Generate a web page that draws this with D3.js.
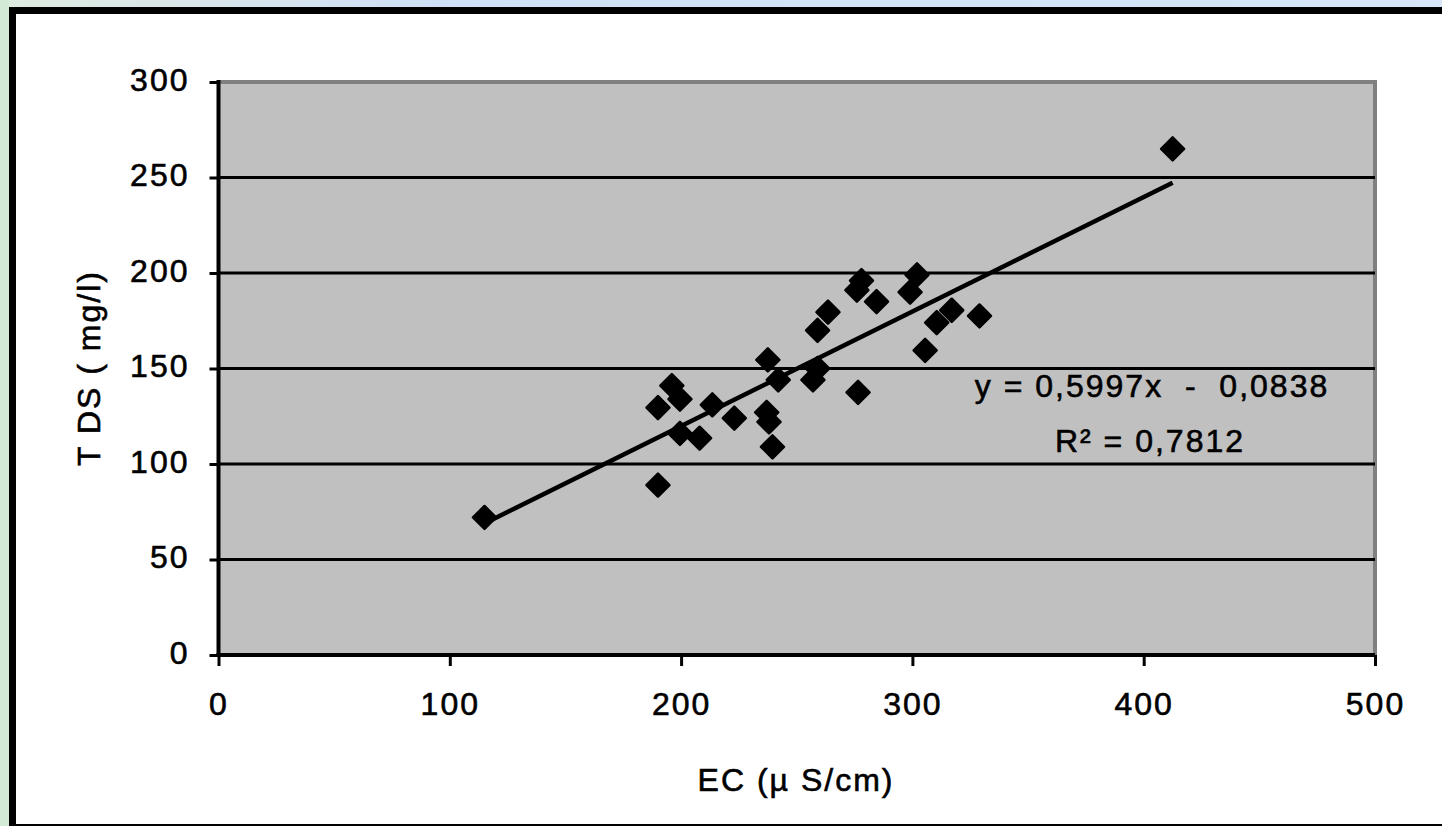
<!DOCTYPE html>
<html>
<head>
<meta charset="utf-8">
<script src="https://cdn.jsdelivr.net/npm/d3@7"></script>
<style>
  body { margin: 0; overflow: hidden; background: #d3e4f7; }
  text { font-family: "Liberation Sans", Arial, sans-serif; fill: #000; stroke: #000; stroke-width: 0.6px; }
</style>
</head>
<body>
<div id="chart"></div>
<script>
// EC vs TDS readings
const ec  = [115, 190, 190, 196, 199.5, 199.5, 208, 213.5, 223, 237.5, 237, 238, 239.5, 242, 257, 259, 259, 263.5, 276.5, 276, 278, 284.5, 299, 302, 305.5, 310.5, 317, 329, 412.5]
const tds = [72, 89, 129.5, 141, 134, 116, 113.5, 131, 124, 154.5, 127, 122, 109, 144, 144, 150, 170, 179.5, 137.5, 191, 196, 185, 190, 199, 159.5, 174, 180.5, 177.5, 265]

const xTicks = [0, 100, 200, 300, 400, 500]
const yTicks = [0, 50, 100, 150, 200, 250, 300]
const gridTicks = [50, 100, 150, 200, 250]

const slope = 0.5997
const intercept = -0.0838
const eqLabel = "y = 0,5997x  -  0,0838"
const r2Label = "R² = 0,7812"

const width = 1442
const height = 826
const plot = { left: 218.5, right: 1375, top: 82, bottom: 655 }

var svg = d3.select("#chart")
    .append("svg")
    .attr("width", width)
    .attr("height", height)

// background round the chart box
let bg = svg.append("defs").append("linearGradient")
    .attr("id", "sky").attr("x1", 0).attr("x2", 1)
bg.append("stop").attr("offset", "0%").attr("stop-color", "#dfeadf")
bg.append("stop").attr("offset", "30%").attr("stop-color", "#cfe0f6")
bg.append("stop").attr("offset", "100%").attr("stop-color", "#d6e6f8")

svg.append("rect").attr("width", width).attr("height", height).attr("fill", "url(#sky)")
svg.append("rect").attr("x", 0).attr("y", 0).attr("width", 9).attr("height", height).attr("fill", "#d2ead6")

// chart box (right and bottom edges run off the picture)
svg.append("rect")
    .attr("x", 12.5).attr("y", 10.5)
    .attr("width", 1500).attr("height", 817)
    .attr("fill", "#fff")
    .attr("stroke", "#000")
    .attr("stroke-width", 7)

let x = d3.scaleLinear().domain([0, 500]).range([plot.left, plot.right])
let y = d3.scaleLinear().domain([0, 300]).range([plot.bottom, plot.top])

// plot area
svg.append("rect")
    .attr("x", plot.left).attr("y", plot.top)
    .attr("width", plot.right - plot.left).attr("height", plot.bottom - plot.top)
    .attr("fill", "#c0c0c0")
svg.append("path")
    .attr("d", `M${plot.left},${plot.top} H${plot.right} V${plot.bottom}`)
    .attr("fill", "none")
    .attr("stroke", "#808080")
    .attr("stroke-width", 4)

svg.selectAll("line.grid")
    .data(gridTicks)
    .enter()
    .append("line")
    .attr("class", "grid")
    .attr("x1", plot.left).attr("x2", plot.right)
    .attr("y1", d => y(d)).attr("y2", d => y(d))
    .attr("stroke", "#000")
    .attr("stroke-width", 3)

// axes
const xAxis = svg.append("g")
    .attr("transform", `translate(0,${plot.bottom})`)
    .call(d3.axisBottom(x).tickValues(xTicks).tickSize(11).tickPadding(26))
const yAxis = svg.append("g")
    .attr("transform", `translate(${plot.left},0)`)
    .call(d3.axisLeft(y).tickValues(yTicks).tickSize(9).tickPadding(20))

for (const ax of [xAxis, yAxis]) {
    ax.select(".domain").attr("stroke", "#000").attr("stroke-width", 4)
    ax.selectAll(".tick line").attr("stroke", "#000").attr("stroke-width", 3)
    ax.selectAll(".tick text")
        .style("font-family", '"Liberation Sans", Arial, sans-serif')
        .style("font-size", "32px")
        .style("letter-spacing", "2px")
        .attr("fill", "#000")
}
xAxis.select(".domain").attr("d", `M${plot.left - 2},0H${plot.right}`)
xAxis.selectAll(".tick text").attr("dy", "0.72em")
yAxis.select(".domain").attr("d", `M0,${plot.top - 2}V${plot.bottom + 2}`)
yAxis.selectAll(".tick text").attr("dy", "0.26em")

// trend line over the data range
let xMin = d3.min(ec), xMax = d3.max(ec)
svg.append("line")
    .attr("x1", x(xMin)).attr("y1", y(slope * xMin + intercept))
    .attr("x2", x(xMax)).attr("y2", y(slope * xMax + intercept))
    .attr("stroke", "#000")
    .attr("stroke-width", 4.5)

// diamond markers
const r = 11.5
svg.selectAll("path.pt")
    .data(d3.range(ec.length))
    .enter()
    .append("path")
    .attr("class", "pt")
    .attr("d", `M0,${-r}L${r},0L0,${r}L${-r},0Z`)
    .attr("transform", i => `translate(${x(ec[i])},${y(tds[i])})`)
    .attr("fill", "#000")
    .attr("stroke", "#000")
    .attr("stroke-width", 2.5)
    .attr("stroke-linejoin", "round")

// labels
const labelStyle = sel => sel
    .style("font-size", "32px")
    .style("letter-spacing", "2px")
    .style("white-space", "pre")

svg.append("text")
    .attr("x", 1152).attr("y", 397)
    .attr("text-anchor", "middle")
    .text(eqLabel)
    .call(labelStyle)

svg.append("text")
    .attr("x", 1150).attr("y", 452)
    .attr("text-anchor", "middle")
    .text(r2Label)
    .call(labelStyle)

svg.append("text")
    .attr("x", 796).attr("y", 791)
    .attr("text-anchor", "middle")
    .text("EC (µ S/cm)")
    .call(labelStyle)

svg.append("text")
    .attr("transform", "translate(100,368) rotate(-90)")
    .attr("text-anchor", "middle")
    .text("T DS ( mg/l)")
    .call(labelStyle)
</script>
</body>
</html>
